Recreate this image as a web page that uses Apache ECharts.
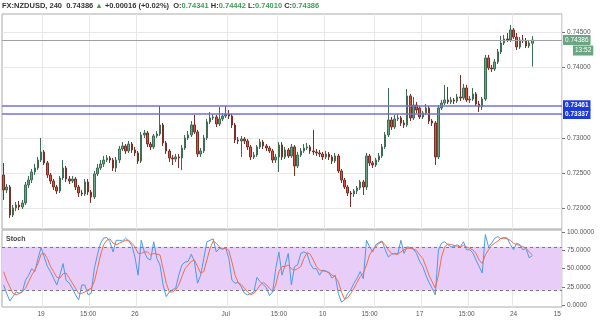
<!DOCTYPE html>
<html><head><meta charset="utf-8">
<script src="https://cdn.jsdelivr.net/npm/echarts@6/dist/echarts.min.js"></script>
<style>html,body{margin:0;padding:0;background:#fff}#c{width:600px;height:322px}</style>
</head><body><div id="c"></div>
<script>
const symbolName = 'FX:NZDUSD';
const timeframe = '240';
const lastPrice = 0.74386;
const changeAbs = '+0.00016';
const changePct = '+0.02%';
const lastOHLC = [0.74341, 0.74442, 0.74010, 0.74386];
const countdown = '13:52';
const levels = [0.73461, 0.73337];

const categoryCount = 179;
const tickIndex = [12, 27, 42, 71, 88, 102, 117, 133, 148, 163, 177];
const tickText = ['19', '15:00', '26', 'Jul', '15:00', '10', '15:00', '17', '15:00', '24', '15'];
const gridIndex = [13, 28, 43, 72, 88, 103, 119, 134, 149, 163];
const priceTicks = [0.720, 0.725, 0.730, 0.740, 0.745];
const stochTicks = [0, 25, 50, 75, 100];
const priceRange = [0.717065, 0.747552];
const stochRange = [-2.75, 103.2];
const stochBand = [20, 80];

const opens = [
0.72473,0.72260,0.72302,0.71905,0.72005,0.72047,0.72019,0.72076,0.72331,0.72402,
0.72515,0.72572,0.72685,0.72799,0.72643,0.72473,0.72387,0.72302,0.72246,0.72430,
0.72572,0.72416,0.72387,0.72416,0.72302,0.72217,0.72203,0.72373,0.72231,0.72161,
0.72487,0.72572,0.72629,0.72685,0.72714,0.72685,0.72572,0.72685,0.72841,0.72884,
0.72813,0.72912,0.72827,0.72785,0.72671,0.73040,0.73068,0.72912,0.72870,0.73026,
0.73054,0.73182,0.72926,0.72813,0.72714,0.72699,0.72728,0.72714,0.72855,0.72997,
0.73040,0.73182,0.73082,0.72770,0.72813,0.72997,0.73224,0.73281,0.73295,0.73196,
0.73267,0.73309,0.73337,0.73309,0.73182,0.72969,0.72955,0.72983,0.72955,0.72870,
0.72728,0.72756,0.72870,0.72940,0.72884,0.72855,0.72813,0.72685,0.72728,0.72898,
0.72728,0.72827,0.72742,0.72870,0.72600,0.72756,0.72813,0.72855,0.72870,0.72813,
0.72799,0.72785,0.72770,0.72728,0.72770,0.72728,0.72671,0.72742,0.72529,0.72402,
0.72302,0.72217,0.72203,0.72246,0.72288,0.72373,0.72302,0.72742,0.72643,0.72614,
0.72685,0.72742,0.72870,0.73040,0.73252,0.73153,0.73267,0.73281,0.73210,0.73182,
0.73593,0.73281,0.73465,0.73423,0.73295,0.73352,0.73423,0.73238,0.73210,0.72728,
0.73423,0.73493,0.73536,0.73508,0.73536,0.73522,0.73579,0.73564,0.73706,0.73536,
0.73550,0.73621,0.73479,0.73437,0.73550,0.74132,0.73990,0.73976,0.74075,0.74217,
0.74344,0.74401,0.74387,0.74529,0.74429,0.74288,0.74387,0.74373,0.74302,0.74341];

const closes = [
0.72260,0.72302,0.71905,0.72005,0.72047,0.72019,0.72076,0.72331,0.72402,0.72515,
0.72572,0.72685,0.72799,0.72643,0.72473,0.72387,0.72302,0.72246,0.72430,0.72572,
0.72416,0.72387,0.72416,0.72302,0.72217,0.72203,0.72373,0.72231,0.72161,0.72487,
0.72572,0.72629,0.72685,0.72714,0.72685,0.72572,0.72685,0.72841,0.72884,0.72813,
0.72912,0.72827,0.72785,0.72671,0.73040,0.73068,0.72912,0.72870,0.73026,0.73054,
0.73182,0.72926,0.72813,0.72714,0.72699,0.72728,0.72714,0.72855,0.72997,0.73040,
0.73182,0.73082,0.72770,0.72813,0.72997,0.73224,0.73281,0.73295,0.73196,0.73267,
0.73309,0.73337,0.73309,0.73182,0.72969,0.72955,0.72983,0.72955,0.72870,0.72728,
0.72756,0.72870,0.72940,0.72884,0.72855,0.72813,0.72685,0.72728,0.72898,0.72728,
0.72827,0.72742,0.72870,0.72600,0.72756,0.72813,0.72855,0.72870,0.72813,0.72799,
0.72785,0.72770,0.72728,0.72770,0.72728,0.72671,0.72742,0.72529,0.72402,0.72302,
0.72217,0.72203,0.72246,0.72288,0.72373,0.72302,0.72742,0.72643,0.72614,0.72685,
0.72742,0.72870,0.73040,0.73252,0.73153,0.73267,0.73281,0.73210,0.73182,0.73593,
0.73281,0.73465,0.73394,0.73295,0.73352,0.73423,0.73238,0.73210,0.72728,0.73423,
0.73493,0.73536,0.73508,0.73536,0.73522,0.73579,0.73564,0.73706,0.73536,0.73550,
0.73621,0.73479,0.73437,0.73550,0.74132,0.73990,0.73976,0.74075,0.74217,0.74344,
0.74401,0.74387,0.74529,0.74429,0.74288,0.74387,0.74373,0.74302,0.74344,0.74386];

const lows = [
0.72118,0.72217,0.71863,0.71877,0.71962,0.71976,0.71990,0.72047,0.72288,0.72359,
0.72473,0.72543,0.72657,0.72614,0.72430,0.72345,0.72260,0.72203,0.72217,0.72402,
0.72373,0.72345,0.72359,0.72260,0.72161,0.72175,0.72175,0.72189,0.72076,0.72132,
0.72458,0.72543,0.72586,0.72657,0.72643,0.72529,0.72515,0.72643,0.72813,0.72770,
0.72785,0.72785,0.72742,0.72629,0.72643,0.72997,0.72870,0.72827,0.72841,0.72997,
0.73026,0.72884,0.72770,0.72657,0.72614,0.72657,0.72572,0.72543,0.72827,0.72969,
0.73011,0.73054,0.72728,0.72728,0.72785,0.72969,0.73196,0.73252,0.73153,0.73167,
0.73238,0.73281,0.73267,0.73139,0.72926,0.72912,0.72728,0.72912,0.72827,0.72685,
0.72699,0.72728,0.72841,0.72841,0.72813,0.72785,0.72643,0.72643,0.72515,0.72685,
0.72699,0.72714,0.72714,0.72458,0.72572,0.72728,0.72785,0.72827,0.72770,0.72756,
0.72742,0.72728,0.72685,0.72699,0.72685,0.72629,0.72643,0.72501,0.72359,0.72274,
0.72175,0.72019,0.72161,0.72203,0.72260,0.72189,0.72260,0.72600,0.72572,0.72586,
0.72657,0.72714,0.72841,0.73011,0.73111,0.73125,0.73238,0.73167,0.73139,0.73153,
0.73238,0.73252,0.73352,0.73267,0.73267,0.73323,0.73196,0.73167,0.72614,0.72699,
0.73394,0.73465,0.73479,0.73479,0.73479,0.73493,0.73522,0.73536,0.73508,0.73493,
0.73522,0.73451,0.73366,0.73394,0.73522,0.73961,0.73933,0.73947,0.74046,0.74188,
0.74316,0.74358,0.74358,0.74401,0.74245,0.74259,0.74344,0.74273,0.74273,0.74010];

const highs = [
0.72643,0.72345,0.72331,0.72047,0.72090,0.72104,0.72118,0.72373,0.72458,0.72558,
0.72629,0.72728,0.72997,0.72827,0.72671,0.72501,0.72416,0.72331,0.72458,0.72685,
0.72600,0.72458,0.72458,0.72444,0.72331,0.72260,0.72416,0.72416,0.72260,0.72529,
0.72629,0.72685,0.72742,0.72756,0.72742,0.72714,0.72728,0.72884,0.72940,0.72912,
0.72955,0.72940,0.72870,0.72813,0.73082,0.73111,0.73096,0.72940,0.73054,0.73096,
0.73451,0.73210,0.72955,0.72841,0.72756,0.72770,0.72770,0.72898,0.73040,0.73096,
0.73238,0.73323,0.73111,0.72855,0.73040,0.73267,0.73366,0.73337,0.73323,0.73437,
0.73352,0.73451,0.73394,0.73337,0.73210,0.73011,0.73026,0.73011,0.72983,0.72898,
0.72799,0.72898,0.72983,0.72969,0.72912,0.72884,0.72841,0.72770,0.72940,0.72940,
0.72870,0.72855,0.72912,0.72898,0.72799,0.72855,0.72912,0.72926,0.72898,0.73111,
0.72841,0.72827,0.72799,0.72813,0.72799,0.72756,0.72785,0.72770,0.72558,0.72430,
0.72331,0.72246,0.72274,0.72317,0.72402,0.72402,0.72785,0.72770,0.72671,0.72714,
0.72785,0.72912,0.73082,0.73706,0.73295,0.73323,0.73337,0.73309,0.73252,0.73692,
0.73621,0.73579,0.73508,0.73451,0.73380,0.73479,0.73451,0.73267,0.73238,0.73465,
0.73536,0.73749,0.73720,0.73579,0.73564,0.73621,0.73890,0.73763,0.73749,0.73593,
0.73706,0.73649,0.73522,0.73579,0.74174,0.74174,0.74032,0.74117,0.74259,0.74444,
0.74458,0.74486,0.74599,0.74557,0.74486,0.74429,0.74458,0.74415,0.74387,0.74442];

const stochK = [
27.5,16,5.5,11.5,18,16,18,34,41,50,
46,64,79,66,53,46,37,27.5,41,57,
34,30,23,14,7,27.5,27.5,14,16,50,
69,85,92,93,87,73,89,89,88,92,
88,82,66,41,89,73,64,62,87,64,
55,27.5,11.5,18,21,23,41,55,59,60,
70,60,30,41,64,87,89,91,73,78,
77,79,64,34,30,31,25,16,14,16,
18,38,32,28,24,13,18,50,73,41,
55,71,27.5,53,55,71,73,71,57,50,
50,41,48,47,44,37,41,16,4,7,
16,21,30,37,46,36,89,80,73,83,
86,88,76,66,70,71,70,89,71,80,
79,77,71,60,53,41,31,23,14,76,
85,87,83,80,80,83,80,87,76,76,
72,62,53,44,97,80,85,92,94,91,
93,92,83,76,85,83,76,78,65,68];

const stochD = [
45.9,34,25,16,14,16,18,23,32,41,
48,57,70,71,64,53,46,38,37,43,
44,37,30,23,16,16,18,21,23,32,
50,69,83,89,91,85,83,85,87,89,
89,85,80,71,71,73,73,69,71,70,
69,50,30,18,18,21,27.5,39,50,55,
60,62,53,44,46,62,78,88,85,80,
77,78,75,59,41,31,28,23,18,14,
16,21,27.5,31,28,23,18,27.5,46,53,
53,55,50,48,50,53,64,72,70,62,
53,48,47,46,45,41,39,32,18,8,
10,16,23,31,39,44,55,69,76,80,
85,87,83,76,71,70,70,73,76,78,
78,77,75,69,64,53,41,32,23,41,
66,80,84,83,82,81,80,82,80,78,
76,71,62,57,69,76,82,85,88,92,
92,91,89,85,83,82,80,78,73,69];

const candles = opens.map((o, i) => [o, closes[i], lows[i], highs[i]]);
const cats = Array.from({length: categoryCount}, (_, i) => String(i));
const labelMap = {};
tickIndex.forEach((k, j) => { labelMap[k] = tickText[j]; });

const FF = '"Liberation Sans", Arial, sans-serif';
const upFill = '#6ba583', downFill = '#d75442';
const txtGreen = '#3f9f55';
const levelBox = '#1c3ad8';
const axisTxt = '#555';
const gridCol = '#e8e8e8';

const chart = echarts.init(document.getElementById('c'), null, {renderer: 'canvas'});

const titleText =
  '{d|' + symbolName + ', ' + timeframe + '}{n|  ' + lastPrice.toFixed(5) + ' }{g|▲}{n| ' +
  changeAbs + ' (' + changePct + ')  O:}{g|' + lastOHLC[0].toFixed(5) + '}{n| H:}{g|' +
  lastOHLC[1].toFixed(5) + '}{n| L:}{g|' + lastOHLC[2].toFixed(5) + '}{n| C:}{g|' +
  lastOHLC[3].toFixed(5) + '}';

const priceFmt = v => {
  const k = v * 200;
  if (Math.abs(k - Math.round(k)) > 1e-6 || Math.round(k) === 147) return '';
  return v.toFixed(5);
};

const boxLabel = (text, bg, bold) => ({
  show: true, position: 'end', distance: 1, formatter: text, backgroundColor: bg,
  color: '#fff', padding: [1.5, 2], fontFamily: FF, fontSize: 6.5, fontWeight: bold ? 'bold' : 'normal'
});

const option = {
  animation: false,
  backgroundColor: '#ffffff',
  textStyle: {fontFamily: FF},
  title: [
    {text: titleText, left: 2, top: 2, padding: 0,
     textStyle: {fontFamily: FF, fontSize: 7.5, rich: {
       d: {fontFamily: FF, fontSize: 7.5, fontWeight: 'bold', color: '#333'},
       n: {fontFamily: FF, fontSize: 7.5, color: '#333'},
       g: {fontFamily: FF, fontSize: 7.5, color: txtGreen}
     }}},
    {text: 'Stoch', left: 6, top: 236, padding: 0,
     textStyle: {fontFamily: FF, fontSize: 7, fontWeight: 'bold', color: '#444'}}
  ],
  grid: [
    {left: 2, right: 38, top: 14, height: 215, show: true, borderColor: '#a9a9a9', borderWidth: 1},
    {left: 2, right: 38, top: 230, height: 77, show: true, borderColor: '#a9a9a9', borderWidth: 1}
  ],
  xAxis: [
    {type: 'category', gridIndex: 0, data: cats, boundaryGap: true,
     axisLine: {show: false}, axisTick: {show: false}, axisLabel: {show: false},
     splitLine: {show: true, interval: (i) => gridIndex.includes(i), lineStyle: {color: gridCol, width: 1}}},
    {type: 'category', gridIndex: 1, data: cats, boundaryGap: true,
     axisLine: {show: false}, axisTick: {show: false},
     axisLabel: {show: true, interval: (i) => tickIndex.includes(i), formatter: (v, i) => labelMap[i] || '',
                 fontFamily: FF, fontSize: 6.5, color: axisTxt, margin: 4},
     splitLine: {show: true, interval: (i) => gridIndex.includes(i), lineStyle: {color: gridCol, width: 1}}}
  ],
  yAxis: [
    {type: 'value', gridIndex: 0, position: 'right', min: priceRange[0], max: priceRange[1], splitNumber: 5,
     axisLine: {show: false},
     axisTick: {show: true, length: 3, lineStyle: {color: '#777'}, customValues: priceTicks},
     axisLabel: {fontFamily: FF, fontSize: 6.5, color: axisTxt, margin: 5, formatter: priceFmt, customValues: priceTicks},
     splitLine: {show: true, lineStyle: {color: gridCol, width: 1}}},
    {type: 'value', gridIndex: 1, position: 'right', min: stochRange[0], max: stochRange[1],
     axisLine: {show: false},
     axisTick: {show: true, length: 3, lineStyle: {color: '#777'}, customValues: stochTicks},
     axisLabel: {fontFamily: FF, fontSize: 6.5, color: axisTxt, margin: 5, customValues: stochTicks,
                 formatter: v => v.toFixed(4)},
     splitLine: {show: false}}
  ],
  series: [
    {type: 'candlestick', xAxisIndex: 0, yAxisIndex: 0, data: candles, barWidth: 2,
     itemStyle: {color: upFill, color0: downFill, borderColor: '#3d6d52', borderColor0: '#7a3026', borderWidth: 1},
     markLine: {silent: true, symbol: ['none', 'none'], animation: false, precision: 5,
       data: [
         {yAxis: lastPrice, lineStyle: {color: 'rgba(0,0,0,0)', width: 1},
          label: {show: true, position: 'end', distance: 1, opacity: 1, formatter: '{s|}{t|' + countdown + '}',
                  padding: [21, 0, 0, 0],
                  rich: {s: {width: 10}, t: {backgroundColor: upFill, color: '#fff', padding: [1.5, 2], fontFamily: FF, fontSize: 6.5}}}},
         {yAxis: lastPrice, lineStyle: {color: '#a0a0a0', width: 1, type: 'solid'},
          label: boxLabel(lastPrice.toFixed(5), upFill, false)},
         {yAxis: levels[0], lineStyle: {color: '#7272d2', width: 1.5, type: 'solid'},
          label: boxLabel(levels[0].toFixed(5), levelBox, true)},
         {yAxis: levels[1], lineStyle: {color: '#7272d2', width: 1.5, type: 'solid'},
          label: boxLabel(levels[1].toFixed(5), levelBox, true)}
       ]}},
    {type: 'line', name: '%K', xAxisIndex: 1, yAxisIndex: 1, data: stochK, showSymbol: false, z: 3,
     lineStyle: {color: '#4b9ae8', width: 1},
     markArea: {silent: true, itemStyle: {color: '#e9cdf9'},
       data: [[{yAxis: stochBand[1]}, {yAxis: stochBand[0]}]]},
     markLine: {silent: true, symbol: ['none', 'none'], z: 1, label: {show: false},
       lineStyle: {color: '#7a7a7a', type: [3, 3], width: 1},
       data: [{yAxis: stochBand[1]}, {yAxis: stochBand[0]}]}},
    {type: 'line', name: '%D', xAxisIndex: 1, yAxisIndex: 1, data: stochD, showSymbol: false, z: 4,
     lineStyle: {color: '#ef6d4e', width: 1}}
  ]
};
chart.setOption(option);
</script>
</body></html>
